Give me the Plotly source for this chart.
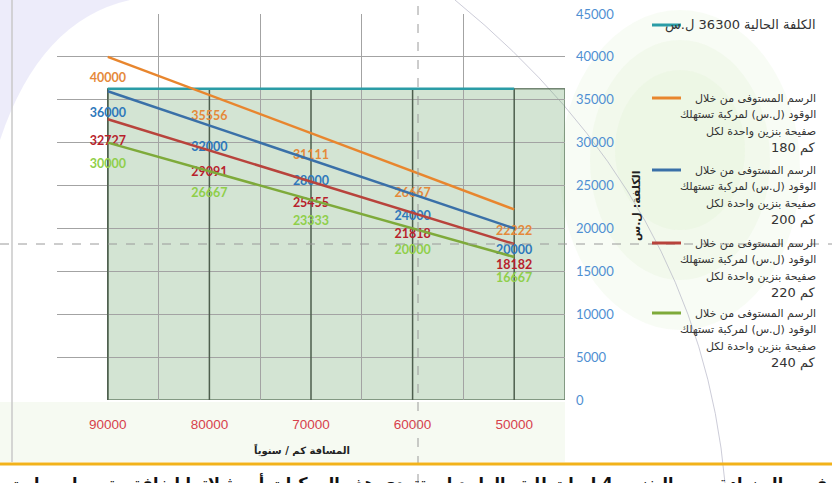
import plotly.graph_objects as go

# ---------------- data ----------------
distances = [90000, 80000, 70000, 60000, 50000]
current_cost = 36300
cost_180 = [40000, 35556, 31111, 26667, 22222]
cost_200 = [36000, 32000, 28000, 24000, 20000]
cost_220 = [32727, 29091, 25455, 21818, 18182]
cost_240 = [30000, 26667, 23333, 20000, 16667]
km_per_tank = [180, 200, 220, 240]
y_ticks = [0, 5000, 10000, 15000, 20000, 25000, 30000, 35000, 40000, 45000]

current_name = "الكلفة الحالية 36300 ل.س"
fee_lines = ["الرسم المستوفى من خلال", "الوقود (ل.س) لمركبة تستهلك", "صفيحة بنزين واحدة لكل"]
km_unit = "كم"
x_title = "المسافة كم / سنوياً"
y_title = "الكلفة: ل.س"
note = "في حال زيادة سعر البنزين 4 ليرات لليتر الواحد لن تتعدى هذه المركبات أو مثيلاتها إضافة حتى ولو سارت مسافة 85000 كم سنوياً"

# ---------------- style ----------------
W, H = 832, 483
L, R, T, B = 57, 267, 14, 83
PW, PH = W - L - R, H - T - B

def fx(px):
    return (px - L) / PW

def fy(py):
    return (H - B - py) / PH

series = [cost_180, cost_200, cost_220, cost_240]
line_colors = ["#e8862e", "#3a70a8", "#b8433c", "#7eaa3a"]
label_colors = ["#e5893a", "#2e78bb", "#b81f2c", "#8fcf4a"]
teal = "#2a9ca6"
legend_swatch_colors = [teal] + line_colors

fig = go.Figure()

# current cost line
fig.add_trace(go.Scatter(
    x=[distances[0], distances[-1]], y=[current_cost, current_cost],
    mode="lines", line=dict(color=teal, width=2.5), name=current_name,
    showlegend=False, hoverinfo="skip"))

for vals, km, lc, tc in zip(series, km_per_tank, line_colors, label_colors):
    fig.add_trace(go.Scatter(
        x=distances, y=vals, mode="lines+markers+text",
        line=dict(color=lc, width=2.5),
        marker=dict(size=24, color="rgba(0,0,0,0)"),
        text=[str(v) for v in vals], textposition="bottom center",
        textfont=dict(family="Lato", size=12.5, color=tc, weight="bold"),
        name=" ".join(fee_lines) + " " + str(km) + " " + km_unit,
        showlegend=False, hoverinfo="skip"))

step = distances[0] - distances[1]
x_left = distances[0] + step / 2
x_right = distances[-1] - step / 2

shapes = []
# page decorations (paper coords)
for (ex0, ey0, ex1, ey1) in [(560, 10, 800, 330), (590, 40, 770, 280), (615, 70, 745, 230)]:
    shapes.append(dict(type="circle", xref="paper", yref="paper", x0=fx(ex0), x1=fx(ex1), y0=fy(ey1), y1=fy(ey0),
                       fillcolor="rgba(215,236,200,0.18)", line=dict(width=0), layer="below"))
shapes.append(dict(type="rect", xref="paper", yref="paper", x0=fx(0), x1=fx(565), y0=fy(462), y1=fy(402),
                   fillcolor="rgba(225,240,212,0.30)", line=dict(width=0), layer="below"))
shapes.append(dict(type="path", xref="paper", yref="paper",
                   path=f"M {fx(0)},{fy(0)} L {fx(130)},{fy(0)} Q {fx(40)},{fy(20)} {fx(0)},{fy(140)} Z",
                   fillcolor="rgba(215,212,245,0.45)", line=dict(width=0), layer="below"))
shapes.append(dict(type="line", xref="paper", yref="paper", x0=fx(12), x1=fx(12), y0=fy(0), y1=fy(462),
                   line=dict(color="#c8c8c8", width=1.5), layer="below"))
shapes.append(dict(type="path", xref="paper", yref="paper",
                   path=f"M {fx(455)},{fy(0)} Q {fx(700)},{fy(200)} {fx(725)},{fy(483)}",
                   line=dict(color="rgba(170,170,190,0.6)", width=1), layer="below"))

# green shaded box under current cost
shapes.append(dict(type="rect", xref="x", yref="y", x0=distances[0], x1=x_right, y0=0, y1=current_cost,
                   fillcolor="rgba(110,165,110,0.30)", line=dict(color="rgba(60,85,60,0.7)", width=1.5),
                   layer="below"))
# dark vertical lines at categories inside box
for d in distances:
    shapes.append(dict(type="line", xref="x", yref="y", x0=d, x1=d, y0=0, y1=current_cost,
                       line=dict(color="#4d5e4d", width=1.5), layer="between"))

# guide dashed lines
shapes.append(dict(type="line", xref="paper", yref="paper", x0=fx(0), x1=fx(W), y0=fy(244), y1=fy(244),
                   line=dict(color="#9a9a9a", width=1, dash="dash"), layer="above"))
shapes.append(dict(type="line", xref="paper", yref="paper", x0=fx(418), x1=fx(418), y0=fy(H), y1=fy(0),
                   line=dict(color="#9a9a9a", width=1, dash="dash"), layer="above"))
# bottom orange rule
shapes.append(dict(type="line", xref="paper", yref="paper", x0=fx(0), x1=fx(W), y0=fy(464), y1=fy(464),
                   line=dict(color="#f2b21a", width=3), layer="above"))

# legend (custom, right aligned)
annotations = []
legend_rows = [25, 98, 170, 243, 313]
legend_texts = [[current_name]] + [fee_lines + ["\u200e" + f"{k} {km_unit}"] for k in km_per_tank]
for row_y, col, lines in zip(legend_rows, legend_swatch_colors, legend_texts):
    shapes.append(dict(type="line", xref="paper", yref="paper", x0=fx(652), x1=fx(681),
                       y0=fy(row_y), y1=fy(row_y), line=dict(color=col, width=3), layer="above"))
    for i, t in enumerate(lines):
        big = (i == 3) or (len(lines) == 1)
        annotations.append(dict(xref="paper", yref="paper", x=fx(818), y=fy(row_y + i * 16.6),
                                xanchor="right", yanchor="middle", showarrow=False, text=t,
                                font=dict(family="DejaVu Sans", size=13 if big else 11, color="#333333")))

annotations.append(dict(xref="paper", yref="paper", x=fx(302), y=fy(450), showarrow=False,
                        text=x_title, xanchor="center", yanchor="middle",
                        font=dict(family="DejaVu Sans", size=10, color="#222222", weight="bold")))
annotations.append(dict(xref="paper", yref="paper", x=fx(636), y=fy(206), showarrow=False,
                        text=y_title, textangle=-90, xanchor="center", yanchor="middle",
                        font=dict(family="DejaVu Sans", size=11, color="#222222", weight="bold")))
annotations.append(dict(xref="paper", yref="paper", x=fx(829), y=fy(469), showarrow=False,
                        text=note, xanchor="right", yanchor="top",
                        font=dict(family="DejaVu Sans", size=16, color="#111111", weight="bold")))

fig.update_layout(
    width=W, height=H,
    margin=dict(l=L, r=R, t=T, b=B, pad=0, autoexpand=False),
    paper_bgcolor="white", plot_bgcolor="white",
    showlegend=False,
    shapes=shapes, annotations=annotations,
    xaxis=dict(range=[x_left, x_right], tickvals=distances, ticktext=[str(d) for d in distances],
               showgrid=False, zeroline=False, showline=False, ticks="", automargin=False,
               tickfont=dict(family="Liberation Sans", size=13.5, color="#d7414c"),
               ticklabelstandoff=14,
               minor=dict(tick0=x_right, dtick=step, showgrid=True, gridcolor="#a3a3a3", gridwidth=1)),
    yaxis=dict(range=[0, 45000], tickvals=y_ticks, ticktext=[str(v) for v in y_ticks], side="right",
               showgrid=True, gridcolor="#a3a3a3", gridwidth=1, zeroline=False, showline=False, ticks="",
               automargin=False,
               tickfont=dict(family="Lato", size=13, color="#4f8fd2"), ticklabelstandoff=10),
)

fig.write_html("out.html", config={"displayModeBar": False},
               post_script="document.body.style.margin='0px';")
